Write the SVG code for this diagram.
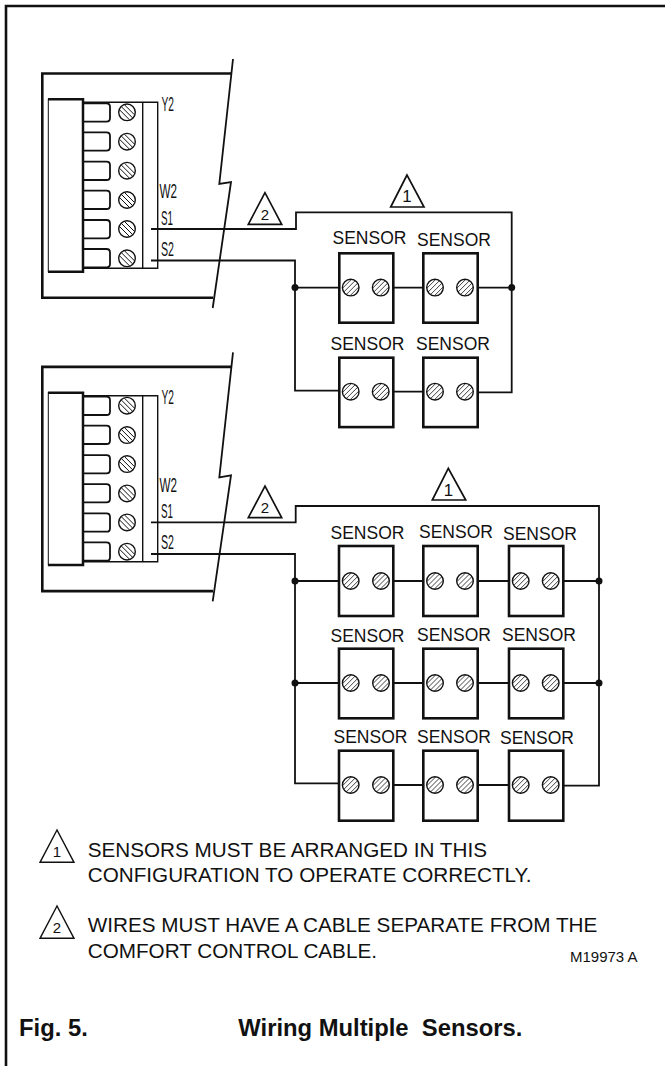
<svg xmlns="http://www.w3.org/2000/svg" xmlns:xlink="http://www.w3.org/1999/xlink" width="665" height="1066" viewBox="0 0 665 1066">
<style>
text{font-family:"Liberation Sans",Arial,sans-serif;fill:#111}
.s{font-size:17.5px}
.n{font-size:20.7px}
.d{font-size:15px;text-anchor:middle}
.e{font-size:16.8px;text-anchor:middle}
.b{font-weight:bold;font-size:23.8px}
.t{fill:none;stroke:#111;stroke-width:1.7}
.w{fill:none;stroke:#111;stroke-width:1.8}
.box{fill:#fff;stroke:#111;stroke-width:2.6}
.h{fill:none;stroke:#111;stroke-width:.8}
.c{fill:#fff;stroke:#111;stroke-width:1.4}
.l{fill:none;stroke:#111;stroke-width:1.4}
.m{fill:none;stroke:#111;stroke-width:2.5}
</style>
<defs>
<g id="sc"><circle class="c" r="8.3"/><path class="h" d="M-6.750 4.250L4.250-6.750M-4.250 6.750L6.750-4.250M-8 .5L.5-8M-.5 8L8-.5"/></g>
<g id="tc"><circle class="c" r="8.3"/><path class="h" d="M-5.700-5.700L5.700 5.700M-7.400-2.400L2.400 7.400M-2.400-7.400L7.400 2.400" style="stroke-width:1"/></g>
<g id="tab"><path class="l" d="M83 0H106.500Q110 0 110 3.500V15Q110 18.300 106.500 18.300H83" style="stroke-width:1.8"/></g>
<g id="ctl">
<path class="m" d="M232 73.500H42.300V297.700H213" style="stroke-width:2.6"/>
<path class="w" d="M233 59L219.300 184L231 182L212.700 308"/>
<path class="l" d="M83 102.300H157.700V268.300H83M142.700 102.300V268.300"/>
<rect x="48.300" y="99.300" width="34.500" height="172.400" fill="#fff" stroke="#111" stroke-width="1"/>
<path class="m" d="M48 99.300H83V271.700H48"/>
<use xlink:href="#tab" href="#tab" y="103.300"/><use xlink:href="#tab" href="#tab" y="132.300"/><use xlink:href="#tab" href="#tab" y="161.700"/><use xlink:href="#tab" href="#tab" y="190.700"/><use xlink:href="#tab" href="#tab" y="220"/><use xlink:href="#tab" href="#tab" y="249"/>
<use xlink:href="#tc" href="#tc" x="127" y="112.300"/><use xlink:href="#tc" href="#tc" x="127" y="141.700"/><use xlink:href="#tc" href="#tc" x="127" y="170.700"/><use xlink:href="#tc" href="#tc" x="127" y="200"/><use xlink:href="#tc" href="#tc" x="127" y="229"/><use xlink:href="#tc" href="#tc" x="127" y="258.300"/>
<g style="font-size:21px"><text x="161.500" y="110.700" textLength="12.500" lengthAdjust="spacingAndGlyphs">Y2</text><text x="159.500" y="198.300" textLength="17.500" lengthAdjust="spacingAndGlyphs">W2</text><text x="161" y="225" textLength="12" lengthAdjust="spacingAndGlyphs">S1</text><text x="161" y="256" textLength="13" lengthAdjust="spacingAndGlyphs">S2</text></g>
<path class="t" d="M265 192.700L248.300 224.300H281.700Z"/><text class="d" x="265" y="220">2</text>
</g>
</defs>
<path id="frame" d="M6 1066V6H665" fill="none" stroke="#111" stroke-width="2.6"/>
<g id="controller-1"><use xlink:href="#ctl" href="#ctl"/></g>
<g id="controller-2"><use xlink:href="#ctl" href="#ctl" y="293.400"/></g>
<g id="connectors">
<path class="w" d="M151 229H296V212.300H511.700V392.300H476.700"/>
<path class="w" d="M151 260.500H295V390.700H340"/>
<path class="w" d="M295 287.600H340M393 287.600H424M477 287.600H511.700M393 391.700H424"/>
<path class="w" d="M151 522.300H295.700V506H599V785.700H563.300"/>
<path class="w" d="M151 554H295V783.300H339"/>
<path class="w" d="M295 581H339M393 581H424M477 581H509M563 581H599M295 683H339M393 683H424M477 683H509M563 683H599M393 785H424M477 785H509"/>
<g fill="#111"><circle cx="295" cy="287.600" r="3.500"/><circle cx="511.700" cy="287.600" r="3.500"/><circle cx="295" cy="581" r="3.500"/><circle cx="599" cy="581" r="3.500"/><circle cx="295" cy="683" r="3.500"/><circle cx="599" cy="683" r="3.500"/></g>
</g>
<g id="note-marker-top"><path class="t" d="M407 175L390.700 207H424Z"/><text class="e" x="407" y="201.700">1</text></g>
<g id="note-marker-lower"><path class="t" d="M448.300 468.300L432.300 500H465.700Z"/><text class="e" x="448.500" y="495.700">1</text></g>
<g id="sensor-a1"><rect class="box" x="339.300" y="253.300" width="54" height="69.400"/><use xlink:href="#sc" href="#sc" x="350.700" y="287.600"/><use xlink:href="#sc" href="#sc" x="380.700" y="287.600"/><text class="s" x="332.500" y="244">SENSOR</text></g>
<g id="sensor-a2"><rect class="box" x="423.300" y="253.300" width="54.400" height="69.400"/><use xlink:href="#sc" href="#sc" x="435" y="287.600"/><use xlink:href="#sc" href="#sc" x="465" y="287.600"/><text class="s" x="417" y="246">SENSOR</text></g>
<g id="sensor-a3"><rect class="box" x="339.300" y="357.700" width="54" height="69.400"/><use xlink:href="#sc" href="#sc" x="350.700" y="391.700"/><use xlink:href="#sc" href="#sc" x="380.700" y="391.700"/><text class="s" x="330.500" y="350">SENSOR</text></g>
<g id="sensor-a4"><rect class="box" x="423.300" y="357.700" width="54.400" height="69.400"/><use xlink:href="#sc" href="#sc" x="435" y="391.700"/><use xlink:href="#sc" href="#sc" x="465" y="391.700"/><text class="s" x="416" y="350">SENSOR</text></g>
<g id="sensor-b1"><rect class="box" x="339" y="546" width="54.300" height="70"/><use xlink:href="#sc" href="#sc" x="350.700" y="581"/><use xlink:href="#sc" href="#sc" x="381" y="581"/><text class="s" x="330.500" y="539">SENSOR</text></g>
<g id="sensor-b2"><rect class="box" x="423.300" y="546" width="54.400" height="70"/><use xlink:href="#sc" href="#sc" x="435" y="581"/><use xlink:href="#sc" href="#sc" x="465" y="581"/><text class="s" x="419" y="537.700">SENSOR</text></g>
<g id="sensor-b3"><rect class="box" x="509" y="546" width="54.300" height="70"/><use xlink:href="#sc" href="#sc" x="520.700" y="581"/><use xlink:href="#sc" href="#sc" x="550.700" y="581"/><text class="s" x="503" y="540">SENSOR</text></g>
<g id="sensor-b4"><rect class="box" x="339" y="648.700" width="54.300" height="69.600"/><use xlink:href="#sc" href="#sc" x="350.700" y="683"/><use xlink:href="#sc" href="#sc" x="381" y="683"/><text class="s" x="330.500" y="641.700">SENSOR</text></g>
<g id="sensor-b5"><rect class="box" x="423.300" y="648.700" width="54.400" height="69.600"/><use xlink:href="#sc" href="#sc" x="435" y="683"/><use xlink:href="#sc" href="#sc" x="465" y="683"/><text class="s" x="417" y="641">SENSOR</text></g>
<g id="sensor-b6"><rect class="box" x="509" y="648.700" width="54.300" height="69.600"/><use xlink:href="#sc" href="#sc" x="520.700" y="683"/><use xlink:href="#sc" href="#sc" x="550.700" y="683"/><text class="s" x="502" y="641">SENSOR</text></g>
<g id="sensor-b7"><rect class="box" x="339" y="750.700" width="54.300" height="70"/><use xlink:href="#sc" href="#sc" x="350.700" y="785"/><use xlink:href="#sc" href="#sc" x="381" y="785"/><text class="s" x="333.500" y="743">SENSOR</text></g>
<g id="sensor-b8"><rect class="box" x="423.300" y="750.700" width="54.400" height="70"/><use xlink:href="#sc" href="#sc" x="435" y="785"/><use xlink:href="#sc" href="#sc" x="465" y="785"/><text class="s" x="417" y="743">SENSOR</text></g>
<g id="sensor-b9"><rect class="box" x="509" y="750.700" width="54.300" height="70"/><use xlink:href="#sc" href="#sc" x="520.700" y="785"/><use xlink:href="#sc" href="#sc" x="550.700" y="785"/><text class="s" x="500" y="744">SENSOR</text></g>
<g id="notes">
<path class="t" d="M57 830L40 862.300H74Z" style="stroke-width:1.4"/><text class="d" x="57" y="857">1</text>
<text class="n" x="87.700" y="857.300">SENSORS MUST BE ARRANGED IN THIS</text>
<text class="n" x="87.700" y="882.300">CONFIGURATION TO OPERATE CORRECTLY.</text>
<path class="t" d="M57 906L40 938.300H74Z" style="stroke-width:1.4"/><text class="d" x="57" y="933">2</text>
<text class="n" x="87.700" y="932.300">WIRES MUST HAVE A CABLE SEPARATE FROM THE</text>
<text class="n" x="87.700" y="958.300">COMFORT CONTROL CABLE.</text>
<text x="570" y="962.300" style="font-size:15px">M19973 A</text>
</g>
<g id="caption"><text class="b" x="19" y="1036">Fig. 5.</text><text class="b" x="238.300" y="1036" xml:space="preserve">Wiring Multiple  Sensors.</text></g>
</svg>
